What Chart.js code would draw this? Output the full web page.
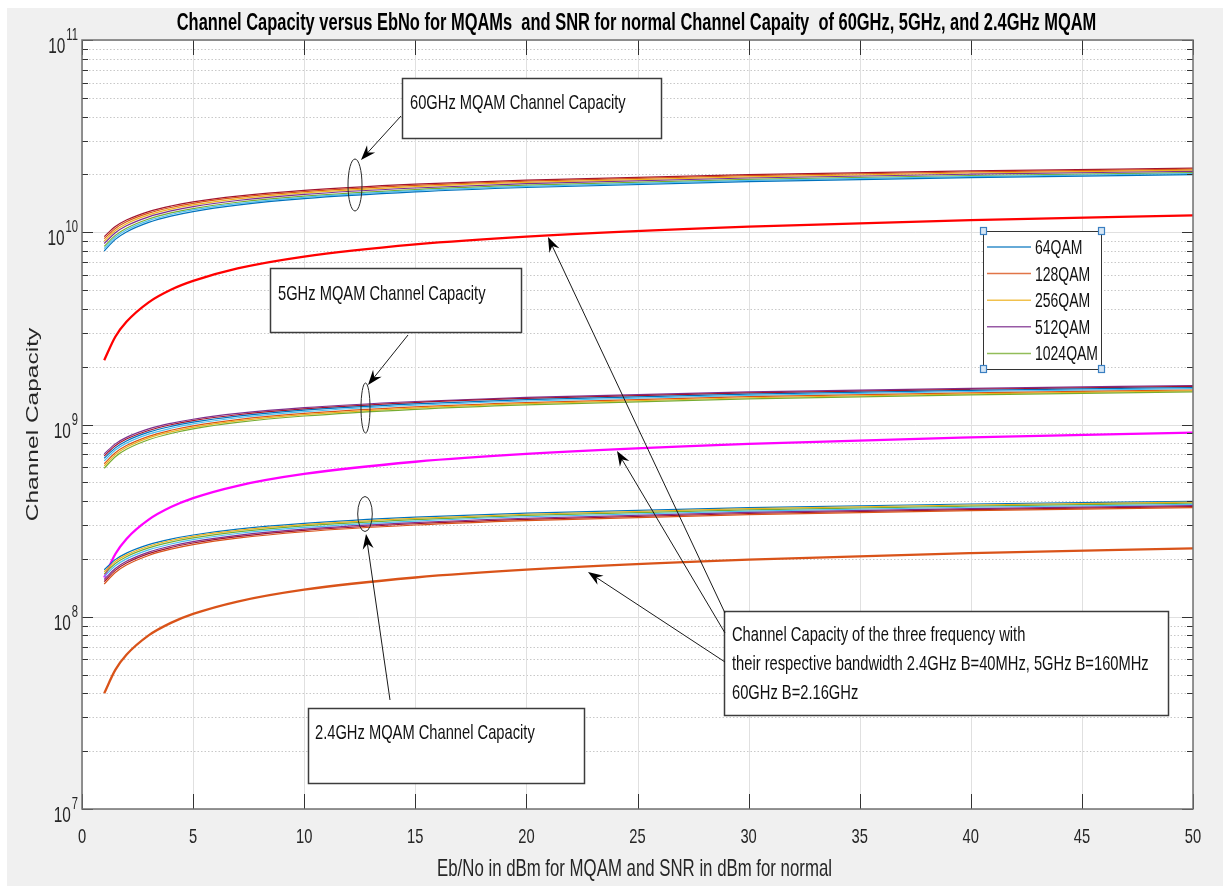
<!DOCTYPE html>
<html>
<head>
<meta charset="utf-8">
<title>Channel Capacity vs EbNo</title>
<script src="https://cdn.jsdelivr.net/npm/chart.js@4.4.0/dist/chart.umd.min.js"></script>
<style>
  html, body { margin: 0; padding: 0; background: #ffffff; }
  #contenedor { width: 1223px; height: 886px; }
</style>
</head>
<body>
<div id="contenedor"><canvas id="graficoCapacidad" width="1223" height="886"></canvas></div>
<script>
// Eje X: Eb/No (dBm)
const ebno = [1, 1.5, 2, 3, 4, 5, 7, 10, 15, 20, 30, 40, 50];

// Marcas de los ejes
const xTicks = [0, 5, 10, 15, 20, 25, 30, 35, 40, 45, 50];
const yDecadas = [1e7, 1e8, 1e9, 1e10, 1e11];

// 60GHz MQAM (de abajo hacia arriba)
const c60_azul    = [7.99e9, 9.18e9, 1.003e10, 1.125e10, 1.213e10, 1.281e10, 1.384e10, 1.495e10, 1.620e10, 1.709e10, 1.835e10, 1.925e10, 1.994e10];
const c60_celeste = [8.22e9, 9.41e9, 1.027e10, 1.150e10, 1.237e10, 1.306e10, 1.409e10, 1.519e10, 1.645e10, 1.734e10, 1.860e10, 1.949e10, 2.019e10];
const c60_verde   = [8.44e9, 9.63e9, 1.049e10, 1.172e10, 1.260e10, 1.328e10, 1.432e10, 1.542e10, 1.668e10, 1.757e10, 1.883e10, 1.973e10, 2.042e10];
const c60_morado  = [8.74e9, 9.94e9, 1.080e10, 1.203e10, 1.291e10, 1.360e10, 1.463e10, 1.574e10, 1.699e10, 1.789e10, 1.915e10, 2.004e10, 2.074e10];
const c60_amarillo= [9.01e9, 1.021e10, 1.108e10, 1.231e10, 1.320e10, 1.388e10, 1.492e10, 1.602e10, 1.728e10, 1.817e10, 1.943e10, 2.033e10, 2.102e10];
const c60_naranja = [9.26e9, 1.047e10, 1.134e10, 1.257e10, 1.345e10, 1.414e10, 1.518e10, 1.628e10, 1.754e10, 1.844e10, 1.970e10, 2.059e10, 2.129e10];
const c60_granate = [9.49e9, 1.070e10, 1.157e10, 1.281e10, 1.369e10, 1.438e10, 1.542e10, 1.653e10, 1.779e10, 1.868e10, 1.994e10, 2.084e10, 2.153e10];

// 5GHz MQAM
const c5_verde    = [5.92e8, 6.80e8, 7.43e8, 8.33e8, 8.98e8, 9.49e8, 1.025e9, 1.107e9, 1.200e9, 1.266e9, 1.359e9, 1.426e9, 1.477e9];
const c5_amarillo = [6.09e8, 6.97e8, 7.61e8, 8.52e8, 9.16e8, 9.67e8, 1.044e9, 1.125e9, 1.218e9, 1.284e9, 1.378e9, 1.444e9, 1.495e9];
const c5_naranja  = [6.25e8, 7.13e8, 7.77e8, 8.68e8, 9.33e8, 9.84e8, 1.061e9, 1.142e9, 1.235e9, 1.301e9, 1.395e9, 1.461e9, 1.512e9];
const c5_celeste  = [6.47e8, 7.36e8, 8.00e8, 8.91e8, 9.56e8, 1.007e9, 1.084e9, 1.166e9, 1.259e9, 1.325e9, 1.418e9, 1.485e9, 1.536e9];
const c5_azul     = [6.67e8, 7.56e8, 8.21e8, 9.12e8, 9.77e8, 1.028e9, 1.105e9, 1.187e9, 1.280e9, 1.346e9, 1.440e9, 1.506e9, 1.557e9];
const c5_granate  = [6.86e8, 7.75e8, 8.40e8, 9.31e8, 9.97e8, 1.048e9, 1.124e9, 1.206e9, 1.300e9, 1.366e9, 1.459e9, 1.525e9, 1.577e9];
const c5_morado   = [7.03e8, 7.93e8, 8.57e8, 9.49e8, 1.014e9, 1.065e9, 1.142e9, 1.224e9, 1.317e9, 1.384e9, 1.477e9, 1.543e9, 1.595e9];

// 2.4GHz MQAM
const c24_naranja = [1.480e8, 1.699e8, 1.858e8, 2.084e8, 2.246e8, 2.372e8, 2.564e8, 2.768e8, 3.000e8, 3.165e8, 3.398e8, 3.564e8, 3.692e8];
const c24_granate = [1.523e8, 1.743e8, 1.902e8, 2.129e8, 2.291e8, 2.418e8, 2.610e8, 2.813e8, 3.046e8, 3.211e8, 3.444e8, 3.610e8, 3.738e8];
const c24_morado  = [1.563e8, 1.784e8, 1.943e8, 2.170e8, 2.333e8, 2.460e8, 2.652e8, 2.856e8, 3.088e8, 3.254e8, 3.487e8, 3.653e8, 3.781e8];
const c24_celeste = [1.618e8, 1.840e8, 2.000e8, 2.228e8, 2.391e8, 2.518e8, 2.710e8, 2.914e8, 3.147e8, 3.312e8, 3.546e8, 3.712e8, 3.840e8];
const c24_verde   = [1.668e8, 1.891e8, 2.052e8, 2.280e8, 2.444e8, 2.570e8, 2.763e8, 2.967e8, 3.200e8, 3.366e8, 3.599e8, 3.764e8, 3.893e8];
const c24_amarillo= [1.714e8, 1.938e8, 2.099e8, 2.328e8, 2.492e8, 2.619e8, 2.811e8, 3.016e8, 3.249e8, 3.414e8, 3.648e8, 3.813e8, 3.942e8];
const c24_azul    = [1.757e8, 1.982e8, 2.143e8, 2.372e8, 2.536e8, 2.663e8, 2.856e8, 3.060e8, 3.294e8, 3.459e8, 3.692e8, 3.858e8, 3.987e8];

// Capacidad normal (SNR) de cada frecuencia
const normal60  = [2.16e9, 2.86e9, 3.42e9, 4.32e9, 5.02e9, 5.58e9, 6.48e9, 7.47e9, 8.64e9, 9.49e9, 1.070e10, 1.157e10, 1.225e10];
const normal5   = [1.60e8, 2.12e8, 2.54e8, 3.20e8, 3.72e8, 4.14e8, 4.80e8, 5.53e8, 6.40e8, 7.03e8, 7.93e8, 8.57e8, 9.08e8];
const normal24  = [4.00e7, 5.29e7, 6.34e7, 8.00e7, 9.29e7, 1.034e8, 1.200e8, 1.384e8, 1.600e8, 1.757e8, 1.982e8, 2.143e8, 2.269e8];

// Leyenda
const leyNombres = ['64QAM', '128QAM', '256QAM', '512QAM', '1024QAM'];

// Colores estilo MATLAB
const AZUL = '#0072BD', NARANJA = '#D95319', AMARILLO = '#EDB120', MORADO = '#7E2F8E',
      VERDE = '#77AC30', CELESTE = '#4DBEEE', GRANATE = '#A2142F';
const leyColores = [AZUL, NARANJA, AMARILLO, MORADO, VERDE];

const FUENTE = '"Liberation Sans", Arial, sans-serif';
const SX = 0.7; // la figura original esta comprimida en horizontal

const serie = (valores, color, ancho) => ({
    data: ebno.map((x, i) => ({ x, y: valores[i] })),
    borderColor: color,
    borderWidth: ancho,
    pointRadius: 0,
    fill: false,
    cubicInterpolationMode: 'monotone',
});

const datasets = [
    serie(c60_azul, AZUL, 1.2), serie(c60_celeste, CELESTE, 1.2), serie(c60_verde, VERDE, 1.2),
    serie(c60_morado, MORADO, 1.2), serie(c60_amarillo, AMARILLO, 1.2), serie(c60_naranja, NARANJA, 1.2),
    serie(c60_granate, GRANATE, 1.2),
    serie(c5_verde, VERDE, 1.2), serie(c5_amarillo, AMARILLO, 1.2), serie(c5_naranja, NARANJA, 1.2),
    serie(c5_celeste, CELESTE, 1.2), serie(c5_azul, AZUL, 1.2), serie(c5_granate, GRANATE, 1.2),
    serie(c5_morado, MORADO, 1.2),
    serie(c24_naranja, NARANJA, 1.2), serie(c24_granate, GRANATE, 1.2), serie(c24_morado, MORADO, 1.2),
    serie(c24_celeste, CELESTE, 1.2), serie(c24_verde, VERDE, 1.2), serie(c24_amarillo, AMARILLO, 1.2),
    serie(c24_azul, AZUL, 1.2),
    serie(normal60, '#FF0000', 2.3),
    serie(normal5, '#FF00FF', 2.3),
    serie(normal24, NARANJA, 2.3),
];

// Anotaciones (coordenadas de figura, en px)
const cajas = [
    { x1: 402, y1: 78, x2: 661, y2: 138, lineas: ['60GHz MQAM Channel Capacity'], tx: 410, ty: [109] },
    { x1: 270, y1: 268, x2: 521, y2: 332, lineas: ['5GHz MQAM Channel Capacity'], tx: 278, ty: [300] },
    { x1: 308, y1: 708, x2: 584, y2: 783, lineas: ['2.4GHz MQAM Channel Capacity'], tx: 315, ty: [739] },
    { x1: 724, y1: 611, x2: 1168, y2: 715, tx: 732, ty: [641, 670, 699],
      lineas: ['Channel Capacity of the three frequency with',
               'their respective bandwidth 2.4GHz B=40MHz, 5GHz B=160MHz',
               '60GHz B=2.16GHz'] },
];
const flechas = [
    [401, 116, 361, 160],
    [408, 335, 368, 385],
    [390, 700, 366, 534],
    [725, 613, 548, 237],
    [725, 633, 617, 451],
    [725, 662, 588, 572],
];
const elipses = [
    [355, 185, 7, 26],
    [365.5, 408, 4.5, 25],
    [365, 514, 7.3, 17.5],
];

function texto(ctx, str, x, y, size, opts = {}) {
    ctx.save();
    ctx.font = `${opts.bold ? 'bold ' : ''}${size}px ${FUENTE}`;
    ctx.fillStyle = opts.color || '#111111';
    ctx.textBaseline = 'alphabetic';
    ctx.textAlign = 'left';
    const w = ctx.measureText(str).width * SX;
    let x0 = x;
    if (opts.align === 'center') x0 = x - w / 2;
    else if (opts.align === 'right') x0 = x - w;
    ctx.translate(x0, y);
    ctx.scale(SX, 1);
    ctx.fillText(str, 0, 0);
    ctx.restore();
    return w;
}

function linea(ctx, x1, y1, x2, y2) {
    ctx.beginPath();
    ctx.moveTo(x1, y1);
    ctx.lineTo(x2, y2);
    ctx.stroke();
}

function flecha(ctx, x1, y1, x2, y2) {
    const ang = Math.atan2(y2 - y1, x2 - x1);
    const largo = 15, medio = 5.5;
    ctx.save();
    ctx.strokeStyle = '#1a1a1a';
    ctx.fillStyle = '#000000';
    ctx.lineWidth = 1;
    linea(ctx, x1, y1, x2 - Math.cos(ang) * 8, y2 - Math.sin(ang) * 8);
    ctx.translate(x2, y2);
    ctx.rotate(ang);
    ctx.beginPath();
    ctx.moveTo(0, 0);
    ctx.lineTo(-largo, -medio);
    ctx.lineTo(-largo + 5, 0);
    ctx.lineTo(-largo, medio);
    ctx.closePath();
    ctx.fill();
    ctx.restore();
}

const plugDibujo = {
    id: 'dibujo',
    beforeDraw(chart) {
        const { ctx, chartArea: a } = chart;
        ctx.save();
        ctx.fillStyle = '#ffffff';
        ctx.fillRect(0, 0, chart.width, chart.height);
        ctx.fillStyle = '#f0f0f0';
        ctx.fillRect(7, 8, chart.width - 7, chart.height - 8);
        ctx.fillStyle = '#ffffff';
        ctx.fillRect(a.left, a.top, a.right - a.left, a.bottom - a.top);
        ctx.restore();
    },
    beforeDatasetsDraw(chart) {
        const { ctx, chartArea: a, scales: { x, y } } = chart;
        ctx.save();
        ctx.lineWidth = 1;
        // cuadricula menor (punteada)
        ctx.strokeStyle = '#c8c8c8';
        ctx.setLineDash([1.5, 2]);
        yDecadas.slice(0, -1).forEach((d) => {
            for (let m = 2; m <= 9; m++) {
                const py = Math.round(y.getPixelForValue(m * d)) + 0.5;
                linea(ctx, a.left, py, a.right, py);
            }
        });
        ctx.setLineDash([]);
        // cuadricula mayor
        ctx.strokeStyle = '#e0e0e0';
        yDecadas.forEach((d) => {
            const py = Math.round(y.getPixelForValue(d)) + 0.5;
            linea(ctx, a.left, py, a.right, py);
        });
        xTicks.forEach((t) => {
            const px = Math.round(x.getPixelForValue(t)) + 0.5;
            linea(ctx, px, a.top, px, a.bottom);
        });
        ctx.restore();
    },
    afterDatasetsDraw(chart) {
        const { ctx, chartArea: a, scales: { x, y } } = chart;
        ctx.save();

        // Marcas de los ejes (hacia adentro, en los cuatro lados)
        ctx.strokeStyle = '#333333';
        ctx.lineWidth = 1;
        xTicks.forEach((t) => {
            const px = Math.round(x.getPixelForValue(t)) + 0.5;
            linea(ctx, px, a.bottom, px, a.bottom - 15);
            linea(ctx, px, a.top, px, a.top + 15);
        });
        yDecadas.forEach((d, i) => {
            const py = Math.round(y.getPixelForValue(d)) + 0.5;
            linea(ctx, a.left, py, a.left + 11, py);
            linea(ctx, a.right, py, a.right - 11, py);
            if (i < yDecadas.length - 1) {
                for (let m = 2; m <= 9; m++) {
                    const pm = Math.round(y.getPixelForValue(m * d)) + 0.5;
                    linea(ctx, a.left, pm, a.left + 6, pm);
                    linea(ctx, a.right, pm, a.right - 6, pm);
                }
            }
        });

        // Caja de ejes
        ctx.strokeStyle = '#707070';
        ctx.lineWidth = 1.5;
        ctx.strokeRect(a.left, a.top, a.right - a.left, a.bottom - a.top);

        // Etiquetas de marcas
        xTicks.forEach((t) => {
            texto(ctx, String(t), x.getPixelForValue(t), 843, 21, { align: 'center', color: '#262626' });
        });
        yDecadas.forEach((d) => {
            const py = y.getPixelForValue(d);
            const exp = String(Math.round(Math.log10(d)));
            ctx.font = `16px ${FUENTE}`;
            const wSup = ctx.measureText(exp).width * SX;
            const xSup = 78 - wSup;
            texto(ctx, exp, xSup, py, 16, { color: '#262626' });
            texto(ctx, '10', xSup - 1, py + 13, 22, { align: 'right', color: '#262626' });
        });

        // Titulo y nombres de ejes
        const cx = (a.left + a.right) / 2;
        texto(ctx, 'Channel Capacity versus EbNo for MQAMs  and SNR for normal Channel Capaity  of 60GHz, 5GHz, and 2.4GHz MQAM',
            cx - 1, 29.5, 23.5, { bold: true, align: 'center', color: '#000000' });
        texto(ctx, 'Eb/No in dBm for MQAM and SNR in dBm for normal', cx - 3, 876, 24, { align: 'center', color: '#262626' });
        ctx.save();
        ctx.translate(33, (a.top + a.bottom) / 2);
        ctx.scale(SX, 1);
        ctx.rotate(-Math.PI / 2);
        ctx.font = `24.5px ${FUENTE}`;
        ctx.fillStyle = '#262626';
        ctx.textAlign = 'center';
        ctx.textBaseline = 'middle';
        ctx.fillText('Channel Capacity', 0, 0);
        ctx.restore();

        // Elipses
        ctx.strokeStyle = '#2a2a2a';
        ctx.lineWidth = 1;
        elipses.forEach(([ex, ey, rx, ry]) => {
            ctx.beginPath();
            ctx.ellipse(ex, ey, rx, ry, 0, 0, Math.PI * 2);
            ctx.stroke();
        });

        // Cajas de texto
        cajas.forEach((c) => {
            ctx.fillStyle = '#ffffff';
            ctx.fillRect(c.x1, c.y1, c.x2 - c.x1, c.y2 - c.y1);
            ctx.strokeStyle = '#3c3c3c';
            ctx.lineWidth = 1.5;
            ctx.strokeRect(c.x1 + 0.5, c.y1 + 0.5, c.x2 - c.x1, c.y2 - c.y1);
            c.lineas.forEach((l, i) => texto(ctx, l, c.tx, c.ty[i], 21, { color: '#111111' }));
        });

        // Flechas
        flechas.forEach(([x1, y1, x2, y2]) => flecha(ctx, x1, y1, x2, y2));

        // Leyenda
        const lx1 = 983, ly1 = 231, lx2 = 1101, ly2 = 369;
        ctx.fillStyle = '#ffffff';
        ctx.fillRect(lx1, ly1, lx2 - lx1, ly2 - ly1);
        ctx.strokeStyle = '#333333';
        ctx.lineWidth = 1;
        ctx.strokeRect(lx1 + 0.5, ly1 + 0.5, lx2 - lx1, ly2 - ly1);
        leyNombres.forEach((nombre, i) => {
            const ly = 247 + i * 26.6;
            ctx.strokeStyle = leyColores[i];
            ctx.lineWidth = 1.5;
            ctx.globalAlpha = 0.8;
            linea(ctx, 987, ly, 1031, ly);
            ctx.globalAlpha = 1;
            texto(ctx, nombre, 1035, ly + 7, 20, { color: '#111111' });
        });
        // Marcadores de seleccion (modo edicion)
        [[lx1, ly1], [lx2, ly1], [lx1, ly2], [lx2, ly2]].forEach(([hx, hy]) => {
            ctx.fillStyle = '#d6e6f4';
            ctx.strokeStyle = '#3a7fc1';
            ctx.lineWidth = 1.2;
            ctx.fillRect(hx - 3, hy - 4, 7, 8);
            ctx.strokeRect(hx - 3 + 0.5, hy - 4 + 0.5, 6, 7);
        });

        ctx.restore();
    },
};

new Chart(document.getElementById('graficoCapacidad').getContext('2d'), {
    type: 'line',
    data: { datasets },
    options: {
        responsive: false,
        animation: false,
        devicePixelRatio: 1,
        layout: { padding: { left: 82, top: 40, right: 30, bottom: 77 } },
        plugins: {
            legend: { display: false },
            tooltip: { enabled: false },
        },
        scales: {
            x: { type: 'linear', min: 0, max: 50, display: false },
            y: { type: 'logarithmic', min: 1e7, max: 1e11, display: false },
        },
    },
    plugins: [plugDibujo],
});
</script>
</body>
</html>
